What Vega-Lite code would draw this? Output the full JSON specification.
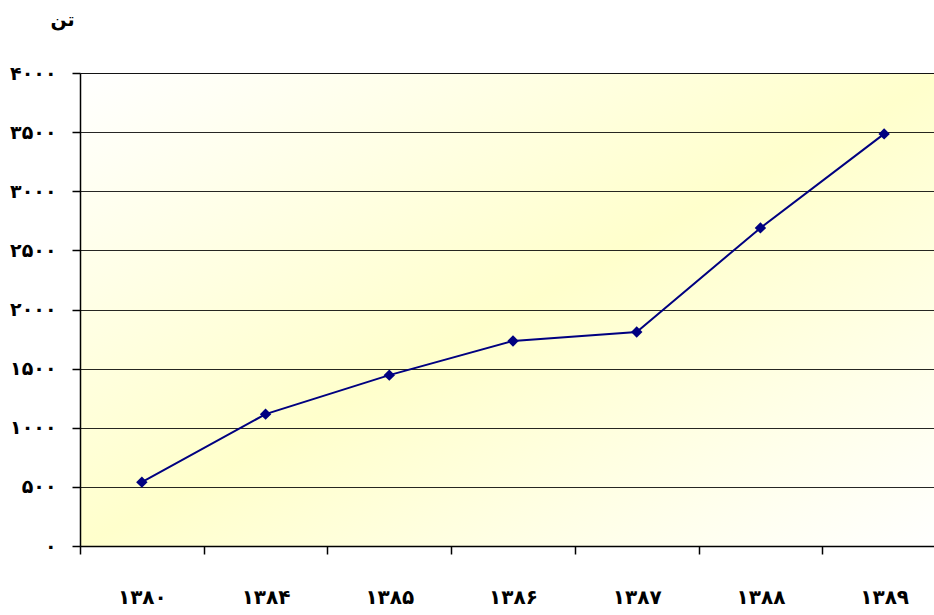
{
  "$schema": "https://vega.github.io/schema/vega-lite/v6.json",
  "width": 866,
  "height": 473,
  "padding": {"left": 80, "top": 73, "right": 0, "bottom": 69},
  "autosize": {"type": "none"},
  "background": "white",
  "config": {
    "view": {
      "stroke": "#808080",
      "fill": {
        "gradient": "linear",
        "x1": 0, "y1": 0, "x2": 1, "y2": 1,
        "stops": [
          {"offset": 0, "color": "#FFFFFF"},
          {"offset": 0.5, "color": "#FFFFCC"},
          {"offset": 1, "color": "#FFFFFF"}
        ]
      }
    },
    "font": "DejaVu Sans"
  },
  "data": {
    "values": [
      {"year": "۱۳۸۰", "order": 1, "value": 540},
      {"year": "۱۳۸۴", "order": 2, "value": 1115},
      {"year": "۱۳۸۵", "order": 3, "value": 1445},
      {"year": "۱۳۸۶", "order": 4, "value": 1734},
      {"year": "۱۳۸۷", "order": 5, "value": 1810},
      {"year": "۱۳۸۸", "order": 6, "value": 2690},
      {"year": "۱۳۸۹", "order": 7, "value": 3485}
    ]
  },
  "mark": {
    "type": "line",
    "color": "#000080",
    "strokeWidth": 2,
    "point": {"shape": "diamond", "filled": true, "size": 130, "color": "#000080"}
  },
  "encoding": {
    "x": {
      "field": "year",
      "type": "ordinal",
      "sort": {"field": "order"},
      "scale": {"type": "band", "paddingInner": 0, "paddingOuter": 0},
      "axis": {
        "title": null,
        "labelAngle": 0,
        "labelFontSize": 20,
        "labelFontWeight": "bold",
        "labelColor": "#000",
        "labelPadding": 33,
        "tickBand": "extent",
        "tickSize": 8,
        "tickColor": "#000",
        "tickWidth": 1.5,
        "domainColor": "#000",
        "domainWidth": 1.5,
        "grid": false
      }
    },
    "y": {
      "field": "value",
      "type": "quantitative",
      "scale": {"domain": [0, 4000], "nice": false},
      "axis": {
        "values": [0, 500, 1000, 1500, 2000, 2500, 3000, 3500, 4000],
        "labelExpr": "replace(replace(replace(replace(replace(replace(format(datum.value,'d'),/0/g,'۰'),/5/g,'۵'),/1/g,'۱'),/2/g,'۲'),/3/g,'۳'),/4/g,'۴')",
        "labelFontSize": 19,
        "labelFontWeight": "bold",
        "labelColor": "#000",
        "labelPadding": 16,
        "tickSize": 8,
        "tickColor": "#000",
        "tickWidth": 1.5,
        "domainColor": "#000",
        "domainWidth": 1.5,
        "gridColor": "#000",
        "gridOpacity": 0.85,
        "gridWidth": 1,
        "title": "تن",
        "titleAngle": 0,
        "titleFontSize": 19,
        "titleFontWeight": "bold",
        "titleColor": "#000",
        "titleX": -18,
        "titleY": -44,
        "titleAlign": "center"
      }
    }
  }
}
